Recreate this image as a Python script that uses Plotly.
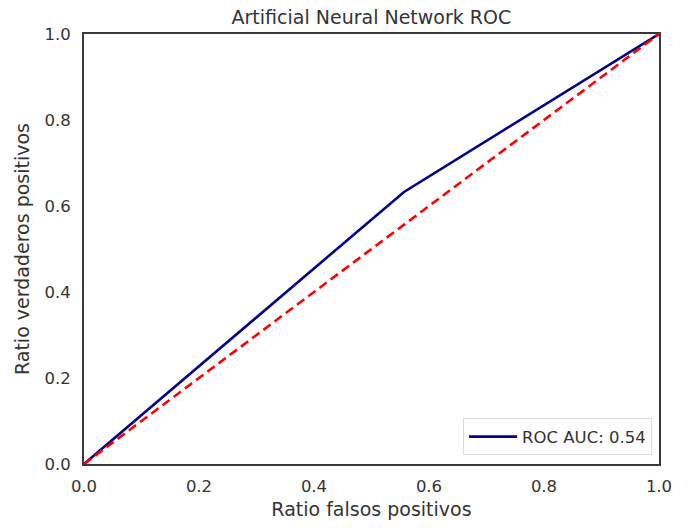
import plotly.graph_objects as go

fpr = [0.0, 0.5565, 1.0]
tpr = [0.0, 0.6326, 1.0]
diag_x = [0.0, 1.0]
diag_y = [0.0, 1.0]
auc_label = "ROC AUC: 0.54"
ticks = [0.0, 0.2, 0.4, 0.6, 0.8, 1.0]
tick_text = ["0.0", "0.2", "0.4", "0.6", "0.8", "1.0"]

FONT = "DejaVu Sans, sans-serif"
TXT = "#333333"

fig = go.Figure()
fig.add_trace(go.Scatter(x=fpr, y=tpr, mode="lines", name=auc_label,
                         line=dict(color="#00008b", width=2.6)))
fig.add_trace(go.Scatter(x=diag_x, y=diag_y, mode="lines", showlegend=False,
                         line=dict(color="#ff0000", width=2.6, dash="9px,5px")))

fig.update_layout(
    width=691, height=528,
    margin=dict(l=84, r=32, t=34, b=64),
    paper_bgcolor="white", plot_bgcolor="white",
    font=dict(family=FONT, color=TXT, size=16.5),
    title=dict(text="Artificial Neural Network ROC", x=0.5375, xanchor="center",
               y=0.967, yanchor="middle", font=dict(size=19, color=TXT)),
    legend=dict(x=0.988, y=0.02, xanchor="right", yanchor="bottom",
                bordercolor="#dcdcdc", borderwidth=1, bgcolor="rgba(255,255,255,0.8)",
                itemwidth=48, font=dict(size=16.5, color=TXT)),
)
fig.update_xaxes(range=[0, 1], tickvals=ticks, ticktext=tick_text, showgrid=False,
                 zeroline=False, showline=True, linecolor="#3a3a3a", linewidth=2,
                 mirror=True, ticks="", ticklabelstandoff=6,
                 title=dict(text="Ratio falsos positivos", font=dict(size=19, color=TXT), standoff=8))
fig.update_yaxes(range=[0, 1], tickvals=ticks, ticktext=tick_text, showgrid=False,
                 zeroline=False, showline=True, linecolor="#3a3a3a", linewidth=2,
                 mirror=True, ticks="", ticklabelstandoff=8,
                 title=dict(text="Ratio verdaderos positivos", font=dict(size=19, color=TXT), standoff=10))

fig.write_html("out.html")
